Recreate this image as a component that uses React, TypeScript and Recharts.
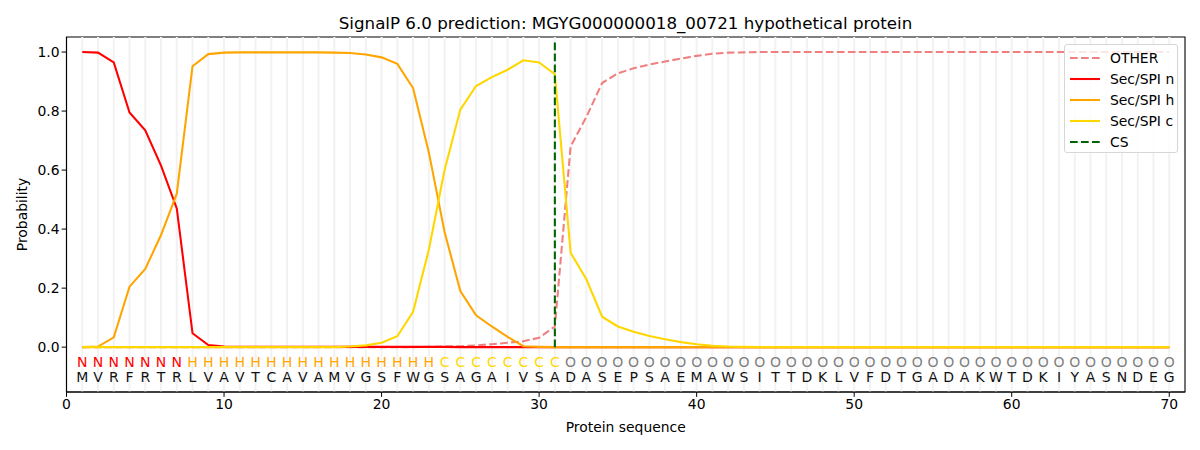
import React from "react"
import {
  ComposedChart, Line, Scatter, XAxis, YAxis, ReferenceLine, ReferenceArea,
} from "recharts"

const title = "SignalP 6.0 prediction: MGYG000000018_00721 hypothetical protein"

const residues = "MVRFRTRLVAVTCAVAMVGSFWGSAGAIVSADASEPSAEMAWSITTDKLVFDTGADAKWTDKIYASNDEG".split("")
const states = ("NNNNNNN" + "HHHHHHHHHHHHHHHH" + "CCCCCCCC" + "O".repeat(39)).split("")

// probabilities per residue (1..70)
const other = [
  0, 0, 0, 0, 0, 0, 0, 0, 0, 0,
  0, 0, 0, 0, 0, 0, 0, 0, 0, 0,
  0, 0, 0.001, 0.002, 0.003, 0.006, 0.01, 0.015, 0.02, 0.032,
  0.07, 0.68, 0.78, 0.895, 0.928, 0.945, 0.958, 0.968, 0.978, 0.987,
  0.994, 0.998, 0.999, 1, 1, 1, 1, 1, 1, 1,
  1, 1, 1, 1, 1, 1, 1, 1, 1, 1,
  1, 1, 1, 1, 1, 1, 1, 1, 1, 1,
]
const secN = [
  1.0, 0.998, 0.965, 0.795, 0.735, 0.615, 0.47, 0.047, 0.007, 0.002,
  0.001, 0.001, 0.001, 0.001, 0.001, 0.001, 0.001, 0.001, 0.001, 0.001,
  0.001, 0.001, 0.001, 0.001, 0, 0, 0, 0, 0, 0,
  0, 0, 0, 0, 0, 0, 0, 0, 0, 0,
  0, 0, 0, 0, 0, 0, 0, 0, 0, 0,
  0, 0, 0, 0, 0, 0, 0, 0, 0, 0,
  0, 0, 0, 0, 0, 0, 0, 0, 0, 0,
]
const secH = [
  0, 0.002, 0.033, 0.205, 0.265, 0.38, 0.52, 0.952, 0.993, 0.998,
  0.999, 0.999, 0.999, 0.999, 0.999, 0.999, 0.998, 0.997, 0.992, 0.982,
  0.96, 0.878, 0.66, 0.39, 0.19, 0.108, 0.07, 0.035, 0.003, 0.001,
  0, 0, 0, 0, 0, 0, 0, 0, 0, 0,
  0, 0, 0, 0, 0, 0, 0, 0, 0, 0,
  0, 0, 0, 0, 0, 0, 0, 0, 0, 0,
  0, 0, 0, 0, 0, 0, 0, 0, 0, 0,
]
const secC = [
  0, 0, 0, 0, 0, 0, 0, 0, 0, 0,
  0, 0, 0, 0, 0, 0, 0, 0.002, 0.006, 0.015,
  0.037, 0.12, 0.33, 0.6, 0.805, 0.885, 0.915, 0.94, 0.972, 0.965,
  0.925, 0.32, 0.23, 0.103, 0.07, 0.052, 0.038, 0.027, 0.017, 0.01,
  0.005, 0.002, 0.001, 0, 0, 0, 0, 0, 0, 0,
  0, 0, 0, 0, 0, 0, 0, 0, 0, 0,
  0, 0, 0, 0, 0, 0, 0, 0, 0, 0,
]
const csPosition = 31
const xTicks = [0, 10, 20, 30, 40, 50, 60, 70]
const yTicks = [0, 0.2, 0.4, 0.6, 0.8, 1.0]

const stateColors: Record<string, string> = { N: "#ff0000", H: "#ffa500", C: "#ffd700", O: "#808080" }

const legendItems = [
  { label: "OTHER", color: "#f08080", dashed: true },
  { label: "Sec/SPI n", color: "#ff0000", dashed: false },
  { label: "Sec/SPI h", color: "#ffa500", dashed: false },
  { label: "Sec/SPI c", color: "#ffd700", dashed: false },
  { label: "CS", color: "#006400", dashed: true },
]

const data = residues.map((aa, i) => ({
  pos: i + 1, aa, other: other[i], n: secN[i], h: secH[i], c: secC[i],
}))
const stateRow = states.map((s, i) => ({ pos: i + 1, y: -0.05, label: s }))
const residueRow = residues.map((aa, i) => ({ pos: i + 1, y: -0.1, label: aa }))

const FONT = "DejaVu Sans, sans-serif"
const LW = 2.08
const DASH = "7.7 3.3"

const Letter = (props: any) => {
  const { cx, cy, payload, colored } = props
  return (
    <text x={cx} y={cy} textAnchor="middle" dominantBaseline="central"
      fontFamily={FONT} fontSize={14}
      fill={colored ? stateColors[payload.label] : "#111"}>
      {payload.label}
    </text>
  )
}

export default function App() {
  return (
    <div style={{ position: "absolute", left: 0, top: 0, width: 1200, height: 450, background: "#fff", fontFamily: FONT }}>
      <div style={{ position: "absolute", left: 66, width: 1119, top: 13, textAlign: "center", fontSize: 16.7, color: "#000" }}>
        {title}
      </div>
      <ComposedChart width={1200} height={450} data={data}
        margin={{ top: 37, right: 15, bottom: 28, left: 16.5 }}>
        <XAxis dataKey="pos" type="number" domain={[0, 71]} ticks={xTicks}
          allowDataOverflow height={30}
          tick={{ fontSize: 13.9, fill: "#000", fontFamily: FONT }}
          tickLine={{ stroke: "#000" }} tickSize={4.9}
          axisLine={{ stroke: "#000", strokeWidth: 1.1 }}
          label={(p: any) => (
            <text x={p.viewBox.x + p.viewBox.width / 2} y={432} textAnchor="middle"
              fontFamily={FONT} fontSize={13.9} fill="#000">Protein sequence</text>
          )} />
        <YAxis type="number" domain={[-0.152, 1.051]} ticks={yTicks} width={50}
          allowDataOverflow
          tickFormatter={(v: number) => v.toFixed(1)}
          tick={{ fontSize: 13.9, fill: "#000", fontFamily: FONT }}
          tickLine={{ stroke: "#000" }} tickSize={4.9}
          axisLine={{ stroke: "#000", strokeWidth: 1.1 }}
          label={(p: any) => {
            const x = p.viewBox.x + 5.5
            const y = p.viewBox.y + p.viewBox.height / 2
            return (
              <text x={x} y={y} transform={`rotate(-90 ${x} ${y})`} textAnchor="middle"
                dominantBaseline="central" fontFamily={FONT} fontSize={13.9} fill="#000">Probability</text>
            )
          }} />
        {data.map((d) => (
          <ReferenceLine key={"g" + d.pos} x={d.pos} stroke="#f2f2f2" strokeWidth={2} />
        ))}
        <ReferenceArea x1={0} x2={71} y1={-0.152} y2={1.051} fill="none"
          stroke="#000" strokeWidth={1.1} ifOverflow="visible" />
        <Line dataKey="other" stroke="#f08080" strokeWidth={LW} strokeDasharray={DASH}
          dot={false} isAnimationActive={false} />
        <Line dataKey="n" stroke="#ff0000" strokeWidth={LW} dot={false} isAnimationActive={false} />
        <Line dataKey="h" stroke="#ffa500" strokeWidth={LW} dot={false} isAnimationActive={false} />
        <Line dataKey="c" stroke="#ffd700" strokeWidth={LW} dot={false} isAnimationActive={false} />
        <ReferenceLine segment={[{ x: csPosition, y: 0 }, { x: csPosition, y: 1.037 }]}
          stroke="#006400" strokeWidth={LW} strokeDasharray={DASH} />
        <Scatter data={stateRow} dataKey="y" isAnimationActive={false}
          shape={(p: any) => <Letter {...p} colored />} />
        <Scatter data={residueRow} dataKey="y" isAnimationActive={false}
          shape={(p: any) => <Letter {...p} />} />
      </ComposedChart>
      <div style={{
        position: "absolute", left: 1064, top: 44, width: 112, height: 107,
        border: "1px solid #d6d6d6", borderRadius: 3, background: "rgba(255,255,255,0.8)",
      }}>
        {legendItems.map((it, i) => (
          <div key={it.label} style={{ position: "absolute", left: 5, top: 3 + i * 21, height: 20, display: "flex", alignItems: "center" }}>
            <svg width={30} height={6} style={{ marginRight: 10 }}>
              <line x1={0} y1={3} x2={30} y2={3} stroke={it.color} strokeWidth={LW}
                strokeDasharray={it.dashed ? DASH : undefined} />
            </svg>
            <span style={{ fontSize: 13.9, color: "#000", whiteSpace: "nowrap" }}>{it.label}</span>
          </div>
        ))}
      </div>
    </div>
  )
}
